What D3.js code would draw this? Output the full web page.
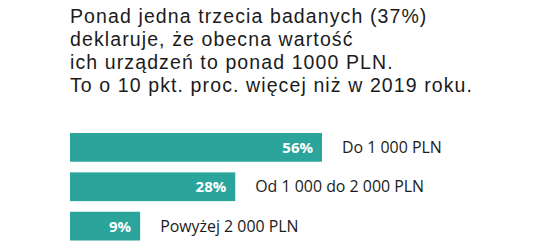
<!DOCTYPE html>
<html>
<head>
<meta charset="utf-8">
<script src="https://cdn.jsdelivr.net/npm/d3@7"></script>
<style>
  html, body { margin: 0; padding: 0; background: #ffffff; }
  svg { display: block; }
</style>
</head>
<body>
<svg id="chart" width="558" height="248"></svg>
<script>
const titleLines = [
  "Ponad jedna trzecia badanych (37%)",
  "deklaruje, że obecna wartość",
  "ich urządzeń to ponad 1000 PLN.",
  "To o 10 pkt. proc. więcej niż w 2019 roku."
];
const categories = ["Do 1 000 PLN", "Od 1 000 do 2 000 PLN", "Powyżej 2 000 PLN"];
const values = [56, 28, 9];
const valueLabels = ["56%", "28%", "9%"];

const svg = d3.select("#chart");
const barColor = "#2ba59b";
const textColor = "#1b1b1b";
const left = 70;

// Title (one text element per line)
const titleG = svg.append("g")
  .attr("fill", textColor)
  .style("font-family", "'Liberation Sans', Arial, sans-serif")
  .style("font-size", "19.5px");
const tl = titleG.selectAll("text")
  .data(titleLines)
  .join("text")
  .attr("x", left)
  .attr("y", (d, i) => 23 + i * 23)
  .text(d => d);
const line4 = titleLines[3];
const w4 = tl.nodes()[3].getComputedTextLength();
const ls = (402 - w4) / (line4.length - 1);
titleG.style("letter-spacing", Math.max(-0.5, Math.min(1.2, ls)) + "px");

// Scales
const x = d3.scaleSymlog()
  .constant(20)
  .domain([0, d3.max(values)])
  .range([0, 252]);

const y = d3.scaleBand()
  .domain(categories)
  .range([133, 240.5])
  .paddingInner(0.27)
  .paddingOuter(0);

const rows = categories.map((c, i) => ({ cat: c, value: values[i], label: valueLabels[i] }));

const g = svg.append("g");

g.selectAll("rect.bar")
  .data(rows)
  .join("rect")
  .attr("class", "bar")
  .attr("x", left)
  .attr("y", d => y(d.cat))
  .attr("width", d => x(d.value))
  .attr("height", y.bandwidth())
  .attr("fill", barColor);

g.selectAll("text.val")
  .data(rows)
  .join("text")
  .attr("class", "val")
  .attr("x", d => left + x(d.value) - 9)
  .attr("y", d => y(d.cat) + y.bandwidth() / 2)
  .attr("dy", "0.36em")
  .attr("text-anchor", "end")
  .attr("fill", "#ffffff")
  .style("font-family", "'Open Sans', Inter, sans-serif")
  .style("font-weight", "700")
  .style("font-size", "15px")
  .text(d => d.label);

const cats = g.selectAll("text.cat")
  .data(rows)
  .join("text")
  .attr("class", "cat")
  .attr("x", d => left + x(d.value) + 20)
  .attr("y", d => y(d.cat) + y.bandwidth() / 2)
  .attr("dy", "0.36em")
  .attr("fill", textColor)
  .style("font-family", "'Open Sans', Inter, sans-serif")
  .style("font-size", "15px")
  .text(d => d.cat);
const wc = cats.nodes()[1].getComputedTextLength();
cats.style("font-size", Math.min(16, 15 * 169 / wc) + "px");
</script>
</body>
</html>
